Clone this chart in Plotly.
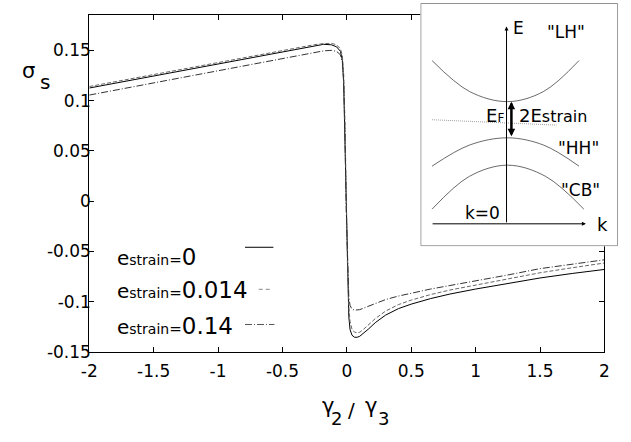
import plotly.graph_objects as go

W, H = 631, 442
FONT = "DejaVu Sans"

# ---------------- data ----------------
gamma_ratio = [-2.0, -1.5, -1.0, -0.75, -0.5, -0.35, -0.25, -0.18, -0.12, -0.08, -0.05,
               -0.035, -0.025, -0.015, -0.005, 0.005, 0.015, 0.025, 0.04, 0.06, 0.08,
               0.1, 0.13, 0.17, 0.22, 0.3, 0.4, 0.5, 0.65, 0.8, 1.0, 1.25, 1.5, 1.75, 2.0]

sigma_e0 = [0.1125, 0.1245, 0.1365, 0.1425, 0.1485, 0.1525, 0.1550, 0.1560, 0.1555, 0.1535, 0.149,
            0.140, 0.118, 0.06, -0.02, -0.08, -0.115, -0.128, -0.1335, -0.1355, -0.1355,
            -0.1345, -0.1315, -0.127, -0.121, -0.1135, -0.107, -0.1025, -0.097, -0.0925, -0.0875,
            -0.0818, -0.0765, -0.072, -0.068]

sigma_e0014 = [0.114, 0.126, 0.138, 0.144, 0.150, 0.1535, 0.1557, 0.1567, 0.157, 0.1555, 0.1515,
               0.145, 0.128, 0.08, 0.0, -0.065, -0.105, -0.12, -0.1275, -0.1305, -0.131,
               -0.1305, -0.1275, -0.123, -0.117, -0.1095, -0.103, -0.0985, -0.093, -0.0885, -0.0835,
               -0.0773, -0.0713, -0.0663, -0.0616]

sigma_e014 = [0.1055, 0.1175, 0.1295, 0.1355, 0.1415, 0.1455, 0.148, 0.1495, 0.150, 0.149, 0.1455,
              0.138, 0.12, 0.07, -0.01, -0.065, -0.095, -0.104, -0.1075, -0.1085, -0.1085,
              -0.108, -0.1065, -0.1045, -0.102, -0.098, -0.0945, -0.0915, -0.0875, -0.084, -0.0795,
              -0.0735, -0.0672, -0.0625, -0.0584]

series_values = ["0", "0.014", "0.14"]

x_tickvals = [-2, -1.5, -1, -0.5, 0, 0.5, 1, 1.5, 2]
x_ticktext = ["-2", "-1.5", "-1", "-0.5", "0", "0.5", "1", "1.5", "2"]
y_tickvals = [-0.15, -0.1, -0.05, 0, 0.05, 0.1, 0.15]
y_ticktext = ["-0.15", "-0.1", "-0.05", "0", "0.05", "0.1", "0.15"]

# inset schematic (inset pixel coordinates)
lh_x = [433, 471, 510, 547, 583]
lh_y = [62, 93.5, 104, 93.5, 62]
hh_x = [433, 471, 510, 547, 583]
hh_y = [170, 148.5, 141, 148.5, 170]
cb_x = [433, 471, 510, 549, 588]
cb_y = [214, 180.5, 169, 180.5, 214]
ef_x = [433, 560]
ef_y = [122.5, 128]


def px(xp):
    return xp / W


def py(yp):
    return 1 - yp / H


fig = go.Figure()

fig.add_trace(go.Scatter(x=gamma_ratio, y=sigma_e0, mode="lines",
                         line=dict(color="black", width=1)))
fig.add_trace(go.Scatter(x=gamma_ratio, y=sigma_e0014, mode="lines",
                         line=dict(color="#666666", width=1, dash="4px,2px")))
fig.add_trace(go.Scatter(x=gamma_ratio, y=sigma_e014, mode="lines",
                         line=dict(color="#333333", width=1, dash="7px,2px,1px,2px")))

for xx, yy in [(lh_x, lh_y), (hh_x, hh_y), (cb_x, cb_y)]:
    fig.add_trace(go.Scatter(x=xx, y=yy, mode="lines", xaxis="x2", yaxis="y2",
                             line=dict(color="#444444", width=0.8, shape="spline")))
fig.add_trace(go.Scatter(x=ef_x, y=ef_y, mode="lines", xaxis="x2", yaxis="y2",
                         line=dict(color="#888888", width=0.8, dash="1px,1px")))

shapes = [
    dict(type="rect", xref="x2", yref="y2", x0=421.5, x1=622.5, y0=3.5, y1=251.5,
         fillcolor="white", line=dict(color="#8a8a8a", width=1), layer="below"),
    dict(type="line", xref="paper", yref="paper", x0=px(242), x1=px(271), y0=py(253), y1=py(253),
         line=dict(color="black", width=1)),
    dict(type="line", xref="paper", yref="paper", x0=px(256), x1=px(269), y0=py(296), y1=py(296),
         line=dict(color="#888888", width=1, dash="4px,3px")),
    dict(type="line", xref="paper", yref="paper", x0=px(242), x1=px(272), y0=py(332), y1=py(332),
         line=dict(color="#555555", width=1, dash="7px,2px,1px,2px")),
]

ann = []
for val, yc in zip(series_values, [263, 297, 334]):
    ann.append(dict(xref="paper", yref="paper", x=px(110), y=py(yc), xanchor="left", yanchor="middle",
                    text="e<span style='font-size:14px'>strain</span><span style='font-size:15px'>=</span>"
                         "<span style='font-size:23px'>" + val + "</span>",
                    showarrow=False, borderpad=0,
                    font=dict(family=FONT, size=20, color="black")))
# y-axis title (sigma_s)
for t, xc, yc, s in [("σ", 21, 73, 21), ("s", 37.5, 84, 20)]:
    ann.append(dict(xref="paper", yref="paper", x=px(xc), y=py(yc), xanchor="center", yanchor="middle",
                    text=t, showarrow=False, font=dict(family=FONT, size=s, color="black")))
# x-axis title (gamma_2 / gamma_3)
for t, xc, yc, s in [("γ", 327, 415, 21), ("/", 351, 419, 20), ("γ", 371, 415, 21)]:
    ann.append(dict(xref="paper", yref="paper", x=px(xc), y=py(yc), xanchor="center", yanchor="middle",
                    text=t, showarrow=False, borderpad=0, font=dict(family=FONT, size=s, color="black")))
for t, xc in [("2", 335), ("3", 383)]:
    ann.append(dict(xref="paper", yref="paper", x=px(xc), y=py(440), xanchor="center", yanchor="bottom",
                    text=t, showarrow=False, borderpad=0, font=dict(family=FONT, size=18, color="black")))

ann.append(dict(xref="x2", yref="y2", axref="x2", ayref="y2", x=509, y=27, ax=509, ay=229,
                text="", showarrow=True, arrowhead=2, arrowsize=0.8, arrowwidth=1, arrowcolor="black"))
ann.append(dict(xref="x2", yref="y2", axref="x2", ayref="y2", x=590, y=229, ax=432, ay=229,
                text="", showarrow=True, arrowhead=2, arrowsize=0.8, arrowwidth=1, arrowcolor="black"))
ann.append(dict(xref="x2", yref="y2", axref="x2", ayref="y2", x=514, y=104, ax=514, ay=141,
                text="", showarrow=True, arrowhead=2, startarrowhead=2, arrowside="end+start",
                arrowsize=0.6, startarrowsize=0.6, arrowwidth=2.5, arrowcolor="black"))
for t, xc, yc, s, anchor in [("E", 514, 29, 17, "left"), ('"LH"', 570, 33, 17, "center"),
                             ("E<span style='font-size:12px'>F</span>", 508, 118, 18, "right"),
                             ("2E<span style='font-size:16px'>strain</span>", 520, 118, 18, "left"),
                             ('"HH"', 583, 151, 17, "center"), ('"CB"', 585, 194, 17, "center"),
                             ("k=0", 504, 218, 17, "right"), ("k", 607, 230, 18, "center")]:
    ann.append(dict(xref="x2", yref="y2", x=xc, y=yc, xanchor=anchor, yanchor="middle",
                    text=t, showarrow=False, font=dict(family=FONT, size=s, color="black")))

axis_common = dict(ticks="inside", ticklen=5, tickwidth=1, tickcolor="black", showline=True,
                   linecolor="black", linewidth=1, mirror="ticks", showgrid=False, zeroline=False,
                   tickfont=dict(family=FONT, size=17, color="black"))

fig.update_layout(
    width=W, height=H, margin=dict(l=0, r=0, t=0, b=0), autosize=False,
    paper_bgcolor="white", plot_bgcolor="white", showlegend=False,
    xaxis=dict(domain=[83 / W, 609 / W], range=[-2, 2], tickvals=x_tickvals, ticktext=x_ticktext,
               anchor="y", ticklabelstandoff=4, **axis_common),
    yaxis=dict(domain=[1 - 360 / H, 1 - 15 / H], range=[-0.15, 0.1855], tickvals=y_tickvals,
               ticktext=y_ticktext, anchor="x", ticklabelstandoff=-6, **axis_common),
    xaxis2=dict(domain=[421 / W, 623 / W], range=[421, 623], visible=False, anchor="y2"),
    yaxis2=dict(domain=[1 - 252 / H, 1 - 3 / H], range=[252, 3], visible=False, anchor="x2"),
    shapes=shapes, annotations=ann,
)

post_js = """
(function(){
  var de = document.documentElement, b = document.body;
  de.style.margin = '0'; b.style.margin = '0'; b.style.padding = '0';
  de.style.overflow = 'hidden'; b.style.overflow = 'hidden';
  document.querySelectorAll('.plotly-graph-div, .svg-container').forEach(function(e){
    e.style.overflow = 'hidden';
  });
})();
"""

fig.write_html("out.html", post_script=post_js, config={"displayModeBar": False})
